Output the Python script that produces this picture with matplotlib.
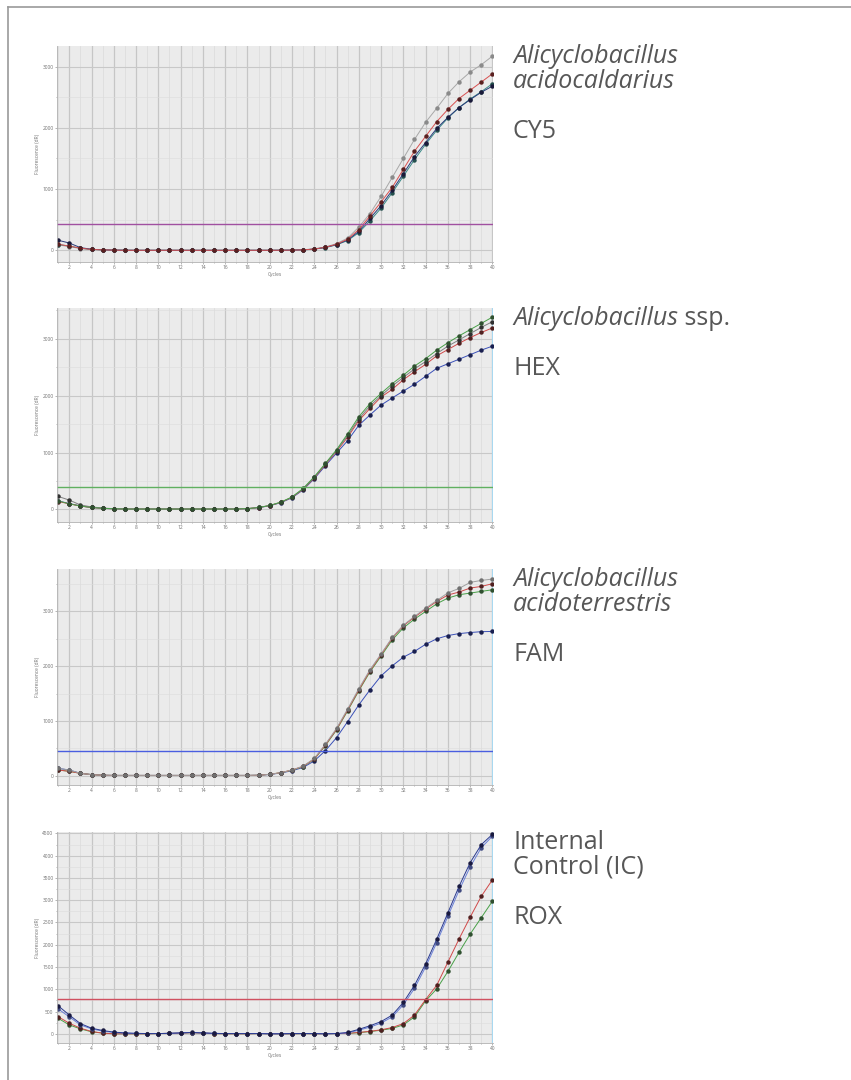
import numpy as np
import matplotlib.pyplot as plt
from matplotlib.lines import Line2D
from matplotlib.ticker import MultipleLocator

cycles = np.arange(1, 41)

# CY5 - Alicyclobacillus acidocaldarius
cy5_gray = [90, 60, 30, 15, 8, 5, 3, 2, 2, 2, 2, 2, 2, 2, 2, 2, 2, 2, 2, 2, 3, 5, 10,
            25, 55, 110, 200, 380, 600, 880, 1190, 1500, 1810, 2090, 2320, 2560, 2750, 2910, 3030, 3170]
cy5_red = [100, 70, 35, 15, 8, 4, 1, 1, 1, 1, 1, 1, 1, 1, 1, 1, 1, 1, 1, 1, 2, 4, 8,
           22, 50, 100, 183, 339, 560, 790, 1027, 1323, 1618, 1860, 2102, 2301, 2478, 2613, 2747, 2882]
cy5_navy = [165, 120, 45, 18, 8, 4, 2, 1, 1, 1, 1, 1, 1, 1, 1, 1, 1, 1, 1, 1, 2, 4, 8,
            20, 48, 95, 170, 310, 520, 730, 980, 1250, 1530, 1760, 1990, 2170, 2330, 2460, 2580, 2680]
cy5_teal = [95, 70, 35, 15, 8, 4, 2, 1, 1, 1, 1, 1, 1, 1, 1, 1, 1, 1, 1, 1, 2, 4, 8,
            20, 45, 90, 160, 290, 480, 690, 940, 1210, 1480, 1730, 1960, 2160, 2330, 2470, 2590, 2720]

# HEX - Alicyclobacillus ssp.
hex_green = [150, 100, 60, 35, 20, 12, 8, 8, 8, 8, 8, 8, 8, 8, 8, 8, 8, 15, 35, 70,
             130, 220, 370, 575, 810, 1050, 1330, 1630, 1860, 2040, 2210, 2360, 2520, 2650, 2800, 2930, 3050, 3160, 3270, 3380]
hex_dark = [230, 165, 80, 45, 25, 14, 8, 8, 8, 8, 8, 8, 8, 8, 8, 8, 8, 15, 35, 70,
            125, 215, 360, 565, 800, 1035, 1300, 1590, 1820, 2000, 2170, 2320, 2470, 2600, 2740, 2870, 2980, 3090, 3200, 3300]
hex_red = [140, 100, 60, 35, 20, 12, 8, 8, 8, 8, 8, 8, 8, 8, 8, 8, 8, 15, 34, 68,
           125, 212, 355, 555, 790, 1020, 1270, 1560, 1775, 1975, 2110, 2280, 2420, 2550, 2700, 2810, 2920, 3020, 3110, 3190]
hex_blue = [150, 105, 62, 35, 20, 12, 8, 8, 8, 8, 8, 8, 8, 8, 8, 8, 8, 14, 32, 65,
            120, 205, 345, 540, 770, 990, 1210, 1480, 1660, 1835, 1960, 2080, 2200, 2340, 2480, 2560, 2640, 2720, 2800, 2870]

# FAM - Alicyclobacillus acidoterrestris
fam_gray = [134, 104, 43, 20, 8, 5, 5, 5, 5, 5, 5, 5, 5, 5, 5, 5, 5, 5, 8, 25,
            55, 104, 175, 315, 575, 865, 1220, 1590, 1935, 2225, 2525, 2750, 2910, 3060, 3200, 3340, 3420, 3530, 3567, 3591]
fam_red = [104, 80, 43, 20, 8, 5, 5, 5, 5, 5, 5, 5, 5, 5, 5, 5, 5, 5, 8, 25,
           55, 104, 170, 305, 561, 848, 1201, 1567, 1915, 2207, 2512, 2738, 2896, 3043, 3183, 3300, 3354, 3427, 3457, 3506]
fam_green = [104, 80, 43, 20, 8, 5, 5, 5, 5, 5, 5, 5, 5, 5, 5, 5, 5, 5, 8, 25,
             55, 100, 165, 300, 550, 835, 1185, 1550, 1895, 2185, 2480, 2700, 2860, 3000, 3140, 3244, 3305, 3335, 3366, 3396]
fam_blue = [134, 104, 43, 20, 8, 5, 5, 5, 5, 5, 5, 5, 5, 5, 5, 5, 5, 5, 8, 22,
            50, 90, 150, 270, 457, 695, 988, 1293, 1567, 1823, 2006, 2165, 2270, 2400, 2500, 2560, 2595, 2615, 2630, 2635]

# ROX - Internal Control (IC)
rox_navy = [630, 422, 230, 126, 74, 37, 20, 10, 5, 5, 10, 20, 30, 20, 10, 5, 5, 5, 5, 0,
            0, 5, 5, 5, 0, 5, 30, 100, 180, 274, 420, 704, 1089, 1570, 2126, 2718, 3311, 3844, 4250, 4480]
rox_lblue = [560, 380, 200, 110, 60, 30, 15, 8, 5, 5, 10, 20, 28, 18, 8, 5, 5, 5, 5, 0,
             0, 5, 5, 5, 0, 5, 20, 80, 150, 240, 380, 650, 1020, 1500, 2050, 2640, 3220, 3750, 4180, 4440]
rox_red = [385, 237, 126, 52, 15, 0, 0, 0, 0, 5, 10, 15, 25, 15, 5, 0, 0, 0, 5, 0,
           0, 0, 5, 0, 0, 5, 10, 30, 55, 90, 140, 230, 420, 770, 1090, 1610, 2130, 2620, 3090, 3460]
rox_green = [348, 200, 110, 45, 15, 0, 0, 0, 0, 5, 10, 15, 25, 15, 5, 0, 0, 0, 5, 0,
             0, 0, 5, 0, 0, 5, 8, 25, 50, 80, 120, 200, 380, 740, 1010, 1400, 1830, 2240, 2610, 2980]

panels = [
    dict(series=[(cy5_gray, '#a8a8a8', '#8a8a8a'), (cy5_teal, '#3c8c88', '#24504e'),
                 (cy5_navy, '#2a3a7a', '#1a1a3a'), (cy5_red, '#d85050', '#5a2020')],
         ylim=(-190, 3335), ystep=1000, thresh=435, tcolor='#a050a0',
         names=['Alicyclobacillus', 'acidocaldarius'], dye='CY5', top=46, bottom=262, edge=False),
    dict(series=[(hex_blue, '#3a50b8', '#1a2050'), (hex_red, '#d04848', '#502020'),
                 (hex_dark, '#808080', '#303030'), (hex_green, '#48a048', '#305030')],
         ylim=(-220, 3540), ystep=1000, thresh=390, tcolor='#60b060',
         names=['Alicyclobacillus'], dye='HEX', top=308, bottom=522, edge=True),
    dict(series=[(fam_blue, '#3a50b8', '#1a2050'), (fam_green, '#48a048', '#305030'),
                 (fam_red, '#d04848', '#502020'), (fam_gray, '#a0a0a0', '#707070')],
         ylim=(-170, 3775), ystep=1000, thresh=450, tcolor='#4a5ee0',
         names=['Alicyclobacillus', 'acidoterrestris'], dye='FAM', top=569, bottom=785, edge=True),
    dict(series=[(rox_green, '#48a048', '#305030'), (rox_red, '#d04848', '#502020'),
                 (rox_lblue, '#6a80d8', '#404a80'), (rox_navy, '#2a3a90', '#1a1a40')],
         ylim=(-207, 4533), ystep=500, thresh=790, tcolor='#d05060',
         names=['Internal', 'Control (IC)'], dye='ROX', top=832, bottom=1043, edge=True),
]

W, H = 851, 1080
fig = plt.figure(figsize=(W / 100, H / 100), dpi=100)
plt.rcParams['font.family'] = ['Open Sans', 'DejaVu Sans']

# frame lines (top and left)
fig.add_artist(Line2D([8 / W, 1], [1 - 7 / H, 1 - 7 / H], color='#9a9a9a', lw=1.2))
fig.add_artist(Line2D([8 / W, 8 / W], [0, 1 - 7 / H], color='#9a9a9a', lw=1.2))

left, right = 57, 493
txt_color = '#575757'
fs = 18

for i, p in enumerate(panels):
    ax = fig.add_axes([left / W, 1 - p['bottom'] / H, (right - left) / W, (p['bottom'] - p['top']) / H])
    ax.set_facecolor('#ebebeb')
    ax.set_axisbelow(True)

    ax.set_xlim(0.9, 40.05)
    ax.set_ylim(*p['ylim'])
    ax.set_xticks(range(2, 41, 2))
    ax.xaxis.set_minor_locator(MultipleLocator(1))
    ax.set_yticks(np.arange(0, p['ylim'][1], p['ystep']))
    ax.yaxis.set_minor_locator(MultipleLocator(p['ystep'] / 2))
    ax.grid(which='major', axis='x', color='#c6c6c6', lw=0.9)
    ax.grid(which='minor', axis='x', color='#dadada', lw=0.5)
    ax.grid(which='major', axis='y', color='#c8c8c8', lw=0.8)
    ax.grid(which='minor', axis='y', color='#dcdcdc', lw=0.4)

    ax.tick_params(which='both', labelsize=3.5, labelcolor='#707070', color='#999999',
                   length=1.5, width=0.5, pad=1)
    ax.tick_params(which='minor', length=1)
    for s in ['top', 'right']:
        ax.spines[s].set_visible(False)
    for s in ['left', 'bottom']:
        ax.spines[s].set_color('#b0b0b0')
        ax.spines[s].set_linewidth(0.6)
    if p['edge']:
        ax.axvline(40.05, color='#a8d8f0', lw=1.5)

    ax.set_xlabel('Cycles', fontsize=3.5, color='#707070', labelpad=1)
    ax.set_ylabel('Fluorescence (dR)', fontsize=3.5, color='#707070', labelpad=2)

    for vals, c, mc in p['series']:
        ax.plot(cycles, vals, color=c, lw=0.7, marker='o', ms=2.2, mfc=mc, mec=mc)
    ax.axhline(p['thresh'], color=p['tcolor'], lw=1.0)

    # labels to the right of the chart
    tx = 513 / W
    base = p['top'] + 17
    for j, name in enumerate(p['names']):
        style = 'italic' if name.startswith(('Alicyclo', 'acido')) else 'normal'
        t = fig.text(tx, 1 - (base + 25 * j) / H, name, fontsize=fs, color=txt_color,
                     style=style, va='baseline', ha='left')
        if i == 1:
            fig.canvas.draw()
            bb = t.get_window_extent()
            fig.text(bb.x1 / W, 1 - base / H, ' ssp.', fontsize=fs, color=txt_color,
                     va='baseline', ha='left')
    dye_y = base + 25 * (len(p['names']) - 1) + 50
    fig.text(tx, 1 - dye_y / H, p['dye'], fontsize=fs, color=txt_color, va='baseline', ha='left')

plt.savefig('out.png', dpi=100)
